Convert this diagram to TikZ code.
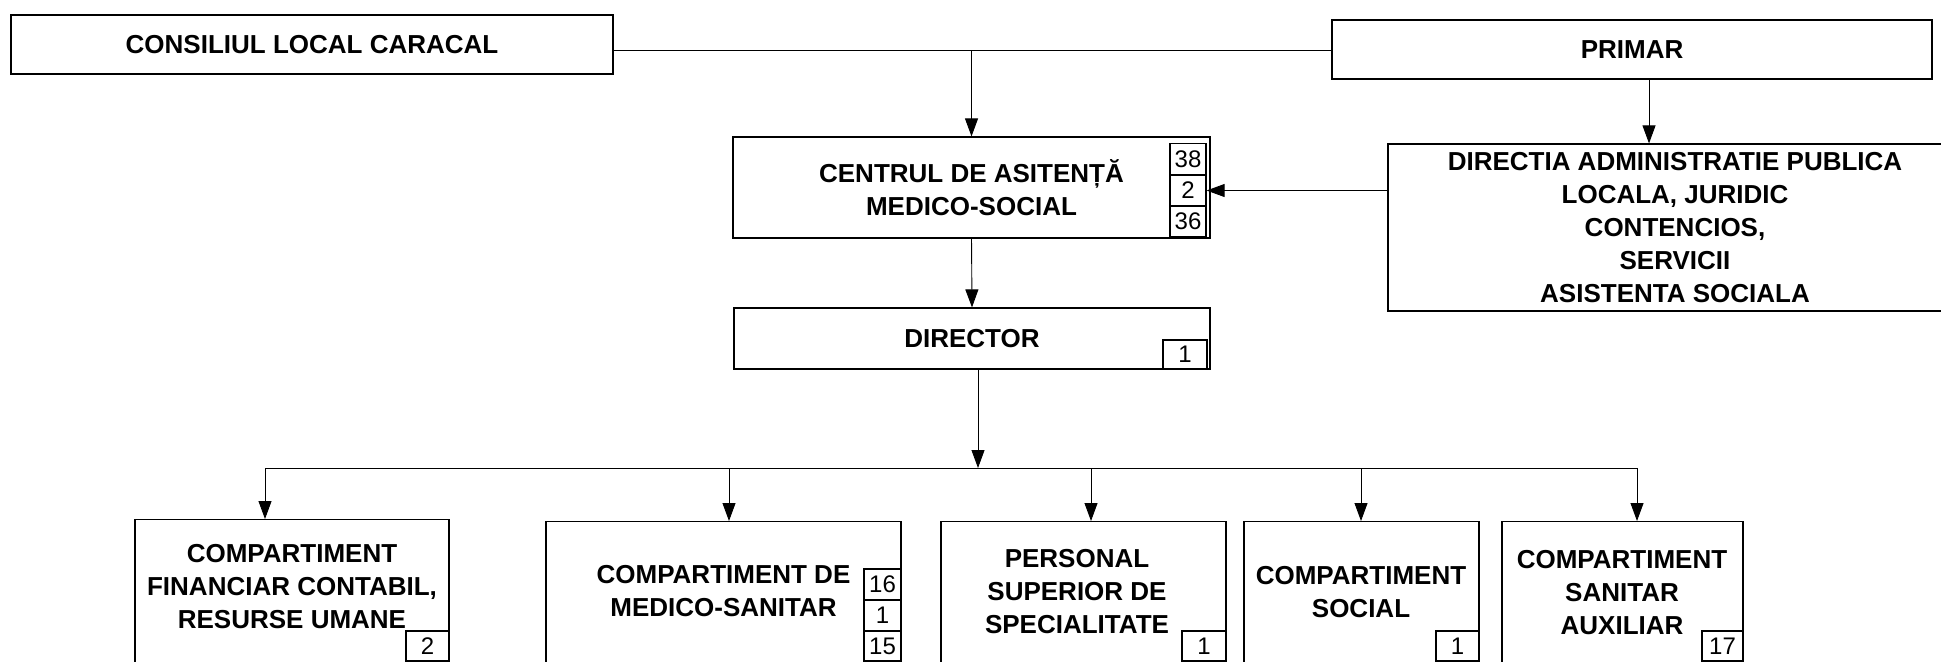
\documentclass[tikz,border=0pt]{standalone}
\usepackage{fontspec}
\setmainfont{Liberation Sans}
\usetikzlibrary{arrows.meta}

\begin{document}
\begin{tikzpicture}[x=0.5pt, y=-0.5pt,
                    line width=0.6pt,
                    >={Triangle[width=6.5pt,length=9pt]},
                    font=\fontsize{13}{16.5}\selectfont\bfseries]
    \tikzstyle{box}=[draw, rectangle, inner sep=0pt, align=center]
    \tikzstyle{unit}=[box, anchor=north, minimum height=100pt]
    \tikzstyle{txt}=[inner sep=0pt, align=center]
    \tikzstyle{num}=[box, font=\fontsize{12}{14}\selectfont, minimum width=18pt, minimum height=15.5pt]
    \tikzstyle{arr}=[->, line width=0.45pt]
    \tikzstyle{link}=[line width=0.45pt]

    \clip (0,0) rectangle (1941,661);

    % upper level
    \node[box, minimum width=301pt, minimum height=29.5pt] (consiliu) at (312,44.5) {CONSILIUL LOCAL CARACAL};
    \node[box, minimum width=300pt, minimum height=29.5pt] (primar) at (1632,49.5) {PRIMAR};
    \node[box, minimum width=287pt, minimum height=83.5pt] (directia) at (1675,227.5)
        {DIRECTIA ADMINISTRATIE PUBLICA\\LOCALA, JURIDIC\\CONTENCIOS,\\SERVICII\\ASISTENTA SOCIALA};
    \node[box, minimum width=238.5pt, minimum height=50.5pt] (centru) at (971.5,187.5)
        {CENTRUL DE ASITENȚĂ\\MEDICO-SOCIAL};
    \node[num] (c1) at (1188,159) {38};
    \node[num] (c2) at (1188,190.5) {2};
    \node[num] (c3) at (1188,221.5) {36};
    \node[box, minimum width=238pt, minimum height=30.5pt] (director) at (972,338.5) {DIRECTOR};
    \node[num, minimum width=22pt, minimum height=14.5pt] (dn) at (1185,354.5) {1};

    % compartimente
    \node[unit, minimum width=157pt] (fin) at (292,519) {};
    \node[txt] (fintxt) at (292,587) {COMPARTIMENT\\FINANCIAR CONTABIL,\\RESURSE UMANE};
    \node[num, minimum width=21.5pt, minimum height=15pt] (finn) at (427.5,646) {2};

    \node[unit, minimum width=177.5pt] (med) at (723.5,521) {};
    \node[txt] (medtxt) at (723.5,591.5) {COMPARTIMENT DE\\MEDICO-SANITAR};
    \node[num, minimum width=18.5pt] (m1) at (882.5,584.5) {16};
    \node[num, minimum width=18.5pt] (m2) at (882.5,615.5) {1};
    \node[num, minimum width=18.5pt, minimum height=15pt] (m3) at (882.5,646) {15};

    \node[unit, minimum width=142.5pt] (pers) at (1083.5,521) {};
    \node[txt] (perstxt) at (1077,591.5) {PERSONAL\\SUPERIOR DE\\SPECIALITATE};
    \node[num, minimum width=22pt, minimum height=15pt] (persn) at (1204,646) {1};

    \node[unit, minimum width=117.5pt] (soc) at (1361.5,521) {};
    \node[txt] (soctxt) at (1361,592) {COMPARTIMENT\\SOCIAL};
    \node[num, minimum width=21.5pt, minimum height=15pt] (socn) at (1457.5,646) {1};

    \node[unit, minimum width=120.5pt] (san) at (1622.5,521) {};
    \node[txt] (santxt) at (1622,593) {COMPARTIMENT\\SANITAR\\AUXILIAR};
    \node[num, minimum width=20.5pt, minimum height=15pt] (sann) at (1722.5,646) {17};

    % legaturi
    \coordinate (cp) at ([yshift=-3pt]consiliu.east);
    \draw[link] (cp) -- (cp -| primar.west);
    \draw[arr] (centru.north |- cp) -- (centru.north);
    \coordinate (pd) at (1649,79);
    \draw[arr] (pd) -- (pd |- directia.north);
    \draw[arr] (directia.west |- c2.east) -- (c2.east);
    \draw[arr] (centru.south) -- (director.north);

    \coordinate (dbus) at (978,468);
    \draw[arr] (dbus |- director.south) -- (dbus);
    \coordinate (b1) at (265,468);
    \coordinate (b2) at (729,468);
    \coordinate (b3) at (1091,468);
    \coordinate (b4) at (1361,468);
    \coordinate (b5) at (1637,468);
    \draw[link] (b1) -- (b5);
    \draw[arr] (b1) -- (b1 |- fin.north);
    \draw[arr] (b2) -- (b2 |- med.north);
    \draw[arr] (b3) -- (b3 |- pers.north);
    \draw[arr] (b4) -- (b4 |- soc.north);
    \draw[arr] (b5) -- (b5 |- san.north);

\end{tikzpicture}
\end{document}
